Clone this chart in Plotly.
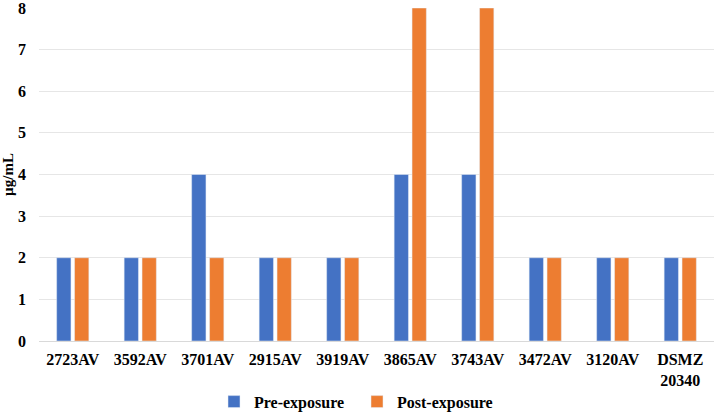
import plotly.graph_objects as go

categories = ["2723AV", "3592AV", "3701AV", "2915AV", "3919AV", "3865AV", "3743AV", "3472AV", "3120AV", "DSMZ<br>20340"]
pre_exposure = [2, 2, 4, 2, 2, 4, 4, 2, 2, 2]
post_exposure = [2, 2, 2, 2, 2, 8, 8, 2, 2, 2]
y_ticks = [0, 1, 2, 3, 4, 5, 6, 7, 8]

font_family = "Liberation Serif"

fig = go.Figure()
fig.add_trace(go.Bar(name="Pre-exposure", x=categories, y=pre_exposure, marker_color="#4472C4"))
fig.add_trace(go.Bar(name="Post-exposure", x=categories, y=post_exposure, marker_color="#ED7D31"))

fig.update_layout(
    width=714, height=412,
    margin=dict(l=39, r=0, t=8, b=71),
    paper_bgcolor="white", plot_bgcolor="white",
    barmode="group", bargap=0.47, bargroupgap=0.2,
    font=dict(family=font_family, size=16, color="black"),
    legend=dict(orientation="h", xref="container", yref="container",
                x=0.5, xanchor="center", y=0.025, yanchor="middle",
                font=dict(family=font_family, size=16, color="black", weight="bold"),
                itemwidth=30, entrywidth=98, traceorder="normal"),
    showlegend=True,
)
fig.update_xaxes(
    tickfont=dict(family=font_family, size=16, color="black", weight="bold"),
    showline=True, linecolor="#d9d9d9", linewidth=1, ticks="", showgrid=False,
    ticklabelstandoff=4, automargin=False,
)
fig.update_yaxes(
    range=[0, 8], tickvals=y_ticks,
    tickfont=dict(family=font_family, size=16, color="black", weight="bold"),
    showgrid=True, gridcolor="#e6e6e6", gridwidth=1, zeroline=False,
    ticks="", showline=False, ticklabelstandoff=12, automargin=False,
    ticklabeloverflow="allow",
    title=dict(text="µg/mL", font=dict(family=font_family, size=15, color="black", weight="bold"), standoff=2),
)

fig.write_html("out.html")
